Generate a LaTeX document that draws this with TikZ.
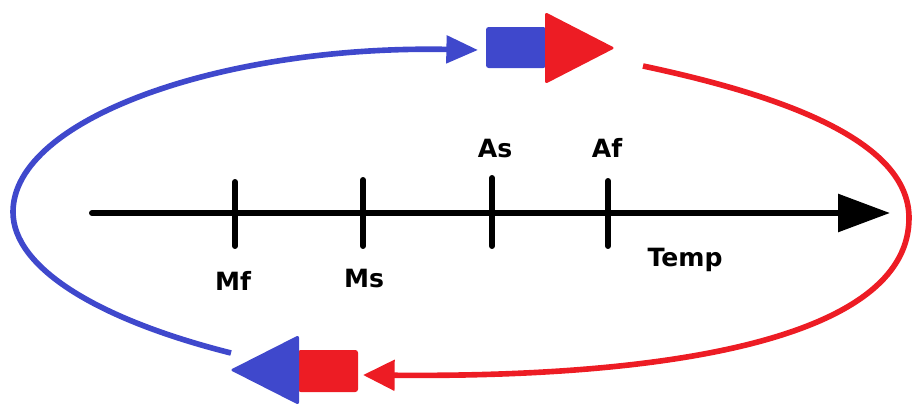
\documentclass[tikz,border=0pt]{standalone}
\usepackage{fontspec}
\setmainfont{DejaVu Sans}
\usetikzlibrary{arrows.meta}
\definecolor{azul}{RGB}{63,72,204}
\definecolor{rojo}{RGB}{237,28,36}
\begin{document}
\begin{tikzpicture}[x=0.02cm, y=-0.02cm, every node/.style={font=\fontsize{14.3}{17}\selectfont\bfseries, inner sep=0pt}]
  \useasboundingbox (0,0) rectangle (913,403);
  \clip (0,0) rectangle (913,403);

  % Eje de temperatura
  \coordinate (t0) at (92,213);
  \coordinate (t1) at (890,213);
  \draw[line width=3.4pt, line cap=round, -{Triangle[length=29.5pt, width=21pt]}] (t0) -- (t1);

  % Marcas
  \coordinate (mf) at (235,213);
  \coordinate (ms) at (363,213);
  \coordinate (as) at (492,213);
  \coordinate (af) at (608,213);
  \draw[line width=3.4pt, line cap=round] (mf) ++(0,-31) -- ++(0,64);
  \draw[line width=3.4pt, line cap=round] (ms) ++(0,-33) -- ++(0,66);
  \draw[line width=3.4pt, line cap=round] (as) ++(0,-35) -- ++(0,68);
  \draw[line width=3.4pt, line cap=round] (af) ++(0,-32) -- ++(0,65);

  % Etiquetas
  \node[anchor=base] (lmf) at (233,290) {Mf};
  \node[anchor=base] (lms) at (364,287) {Ms};
  \node[anchor=base] (las) at (495,157) {As};
  \node[anchor=base] (laf) at (607,157) {Af};
  \node[anchor=base] (ltemp) at (685,266) {Temp};

  % Flecha de bloque superior
  \fill[azul, rounded corners=1.5pt] (486,27) rectangle (546,68);
  \fill[rojo, rounded corners=1.5pt] (545,12) -- (615,48) -- (545,84) -- cycle;

  % Flecha de bloque inferior
  \fill[rojo, rounded corners=1.5pt] (298,350) rectangle (358,392);
  \fill[azul, rounded corners=1.5pt] (299,335) -- (230,370) -- (299,405) -- cycle;

  % Curva azul (enfriamiento)
  \coordinate (b0) at (231,353);
  \coordinate (bl) at (13,212);
  \coordinate (b1) at (478,50);
  \draw[azul, line width=3.2pt, -{Triangle[length=18pt, width=15.3pt]}] (b0) .. controls (96,319) and (13,267) .. (bl) .. controls (13,118) and (225,45) .. (b1);

  % Curva roja (calentamiento)
  \coordinate (r0) at (643,66);
  \coordinate (rr) at (909,218);
  \coordinate (r1) at (363,375);
  \draw[rojo, line width=3.2pt, -{Triangle[length=18pt, width=17pt]}] (r0) .. controls (780,95) and (909,140) .. (rr) .. controls (909,330) and (700,378) .. (r1);
\end{tikzpicture}
\end{document}
